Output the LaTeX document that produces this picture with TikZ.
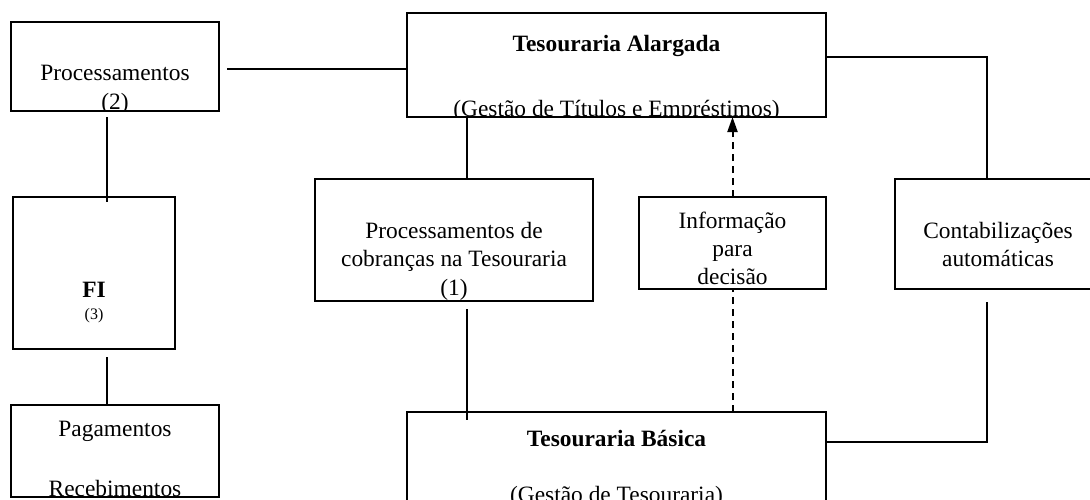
\documentclass[tikz,border=0pt]{standalone}
\usepackage{fontspec}
\setmainfont{Liberation Serif}
\usetikzlibrary{fit,arrows.meta,positioning}
\tikzset{
  blkbox/.style   = {draw, line width=1pt, inner sep=0pt, outer sep=0pt},
  lbl/.style      = {font=\fontsize{11.7}{14}\selectfont, inner sep=0pt, anchor=base},
  lblbold/.style  = {lbl, font=\fontsize{11.7}{14}\selectfont\bfseries},
  lblsmall/.style = {lbl, font=\fontsize{8}{10}\selectfont},
  link/.style     = {line width=1pt},
  flow/.style     = {line width=1pt, dash pattern=on 3.5pt off 2.5pt},
  flowarr/.style  = {flow, -{Triangle[length=7.5pt,width=5pt]}},
}
\newcommand{\blk}[4]{%
  \coordinate (#1nw) at #2;
  \coordinate (#1se) at #3;
  \begin{scope}
    \clip (#1nw) rectangle (#1se);
    #4
  \end{scope}
  \node[blkbox, fit=(#1nw)(#1se)] (#1) {};
}
\begin{document}
\begin{tikzpicture}[x=0.5pt, y=-0.5pt]
  \useasboundingbox (0,0) rectangle (1090,499);
  \clip (0,0) rectangle (1090,499);

  % left column
  \blk{proc2}{(11,22)}{(219,111)}{
    \node[lbl] (proc2a) at (115,80)  {Processamentos};
    \node[lbl] (proc2b) at (115,109) {(2)};
  }
  \blk{fi}{(13,197)}{(175,349)}{
    \node[lblbold]  (fia) at (94,297) {FI};
    \node[lblsmall] (fib) at (94,319) {(3)};
  }
  \blk{pag}{(11,405)}{(219,497)}{
    \node[lbl] (paga) at (115,436) {Pagamentos};
    \node[lbl] (pagb) at (115,496) {Recebimentos};
  }

  % treasury blocks
  \blk{ta}{(407,13)}{(826,117)}{
    \node[lblbold] (taa) at (616.5,51)  {Tesouraria Alargada};
    \node[lbl]     (tab) at (616.5,116) {(Gestão de Títulos e Empréstimos)};
  }
  \blk{tb}{(407,412)}{(826,520)}{
    \node[lblbold] (tba) at (616.5,446) {Tesouraria Básica};
    \node[lbl]     (tbb) at (616.5,502) {(Gestão de Tesouraria)};
  }

  % middle row
  \blk{cob}{(315,179)}{(593,301)}{
    \node[lbl] (coba) at (454,238)   {Processamentos de};
    \node[lbl] (cobb) at (454,266.5) {cobranças na Tesouraria};
    \node[lbl] (cobc) at (454,295)   {(1)};
  }
  \blk{info}{(639,197)}{(826,289)}{
    \node[lbl] (infoa) at (732.5,228) {Informação};
    \node[lbl] (infob) at (732.5,256) {para};
    \node[lbl] (infoc) at (732.5,284) {decisão};
  }
  \blk{cont}{(895,179)}{(1101,289)}{
    \node[lbl] (conta) at (998,238) {Contabilizações};
    \node[lbl] (contb) at (998,266) {automáticas};
  }

  % connectors
  \draw[link, shorten <=4pt] ([yshift=-1.25pt]proc2.east) -- ([yshift=-1.25pt]proc2.east -| ta.west);
  \draw[link, shorten <=3pt, shorten >=-2.5pt] ([xshift=-4pt]proc2.south) -- ([xshift=-4pt]proc2.south |- fi.north);
  \draw[link, shorten <=4pt] ([xshift=-4pt]pag.north |- fi.south) -- ([xshift=-4pt]pag.north);
  \draw[link] ([xshift=6.5pt]cob.north |- ta.south) -- ([xshift=6.5pt]cob.north);
  \draw[link, shorten <=4pt, shorten >=-4pt] ([xshift=6.5pt]cob.south) -- ([xshift=6.5pt]cob.south |- tb.north);
  \draw[flowarr] (info.north) -- (info.north |- ta.south);
  \draw[flow] (tb.north -| info.south) -- (info.south);
  \draw[link] ([yshift=4pt]ta.east) -| ([xshift=-5.5pt]cont.north);
  \draw[link, shorten <=6.5pt] ([xshift=-5.5pt]cont.south) |- ([yshift=12pt]tb.east);
\end{tikzpicture}
\end{document}
